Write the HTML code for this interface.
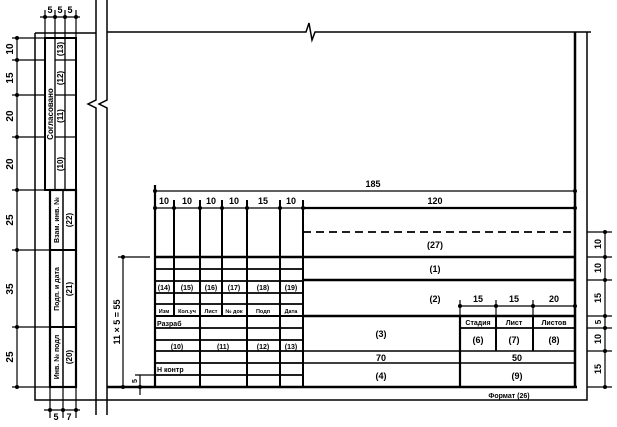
<!DOCTYPE html>
<html><head><meta charset="utf-8"><style>
html,body{margin:0;padding:0;background:#fff;}
svg{display:block;}
text{font-family:"Liberation Sans",sans-serif;fill:#000;font-weight:bold;}
</style></head><body>
<svg width="617" height="427" viewBox="0 0 617 427" xmlns="http://www.w3.org/2000/svg">
<g stroke="#000" fill="none">
<path d="M35,33 H96 M107,32 H306 L309,23 L312,40 L315,32 H591" stroke-width="1.5"/>
<path d="M35,33 V400 H587 V32" stroke-width="1.5"/>
<path d="M96,0 V100 L88,104 L96,108 V415 M107,0 V100 L99,104 L107,108 V415" stroke-width="1.5"/>
<path d="M575,32 V387 M107,387 H577" stroke-width="2.5"/>

<rect x="45" y="38" width="31" height="152" stroke-width="2"/>
<path d="M55,38 V190 M65,38 V190" stroke-width="1.3"/>
<path d="M55,60 H76 M55,95 H76 M55,137 H76" stroke-width="1.3"/>
<rect x="50" y="190" width="26" height="197" stroke-width="2.2"/>
<path d="M63,190 V387" stroke-width="1.5"/>
<path d="M50,250 H76 M50,327 H76" stroke-width="2"/>
<path d="M17,38 V387" stroke-width="1.2"/>
<path d="M12,38 H45 M12,60 H45 M12,95 H45 M12,137 H45 M12,190 H45 M12,250 H50 M12,327 H50 M12,387 H50" stroke-width="1.2"/>
<path d="M45,10 V38 M55,10 V38 M65,10 V38 M76,10 V38 M40,17 H80" stroke-width="1.2"/>
<path d="M50,387 V418 M63,387 V418 M76,387 V418 M44,410 H80" stroke-width="1.2"/>

<path d="M155,185 V387" stroke-width="2.2"/>
<path d="M155,191 H575" stroke-width="1.2"/>
<path d="M155,208 H303" stroke-width="1.2"/>
<path d="M174,200 V316 M222,200 V316" stroke-width="2"/>
<path d="M200,200 V387 M247,200 V387 M280,200 V387 M303,200 V387" stroke-width="2"/>
<path d="M155,257 H575 M303,280 H575 M303,316 H575" stroke-width="2.5"/>
<path d="M155,269 H303 M155,281 H303 M155,293 H303 M155,304 H303 M155,328 H303 M155,340 H303 M155,351 H303 M155,363 H303 M155,375 H303" stroke-width="1.7"/>
<path d="M155,316 H303" stroke-width="2"/>
<path d="M303,208 H575" stroke-width="2.2"/>
<path d="M303,232 H575 M303,208 V257" stroke-width="1.8" stroke-dasharray="8,5"/>
<path d="M303,351 H575 M303,363 H575" stroke-width="1.5"/>
<path d="M460,316 V387" stroke-width="2.2"/>
<path d="M496,316 V351 M533,316 V351" stroke-width="2"/>
<path d="M460,328 H575" stroke-width="1.7"/>
<path d="M460,300 V316 M496,300 V316 M533,300 V316 M460,306 H575" stroke-width="1.2"/>
<path d="M605,232 V387" stroke-width="1.2"/>
<path d="M587,232 H612 M587,257 H612 M587,280 H612 M587,316 H612 M587,328 H612 M587,351 H612 M587,387 H612" stroke-width="1.2"/>
<path d="M123,257 V387 M118,257 H150 M118,387 H150" stroke-width="1.2"/>
<path d="M140,375 V395 M135,375 H155" stroke-width="1.2"/>
</g>
<g fill="#000">
<circle cx="17" cy="38" r="2"/><circle cx="17" cy="60" r="2"/><circle cx="17" cy="95" r="2"/><circle cx="17" cy="137" r="2"/><circle cx="17" cy="190" r="2"/><circle cx="17" cy="250" r="2"/><circle cx="17" cy="327" r="2"/><circle cx="17" cy="387" r="2"/>
<circle cx="45" cy="17" r="2"/><circle cx="55" cy="17" r="2"/><circle cx="65" cy="17" r="2"/><circle cx="76" cy="17" r="2"/>
<circle cx="50" cy="410" r="2"/><circle cx="63" cy="410" r="2"/><circle cx="76" cy="410" r="2"/>
<circle cx="155" cy="208" r="2"/><circle cx="174" cy="208" r="2"/><circle cx="200" cy="208" r="2"/><circle cx="222" cy="208" r="2"/><circle cx="247" cy="208" r="2"/><circle cx="280" cy="208" r="2"/><circle cx="303" cy="208" r="2"/><circle cx="575" cy="208" r="2"/>
<circle cx="155" cy="191" r="2"/><circle cx="575" cy="191" r="2"/>
<circle cx="460" cy="306" r="2"/><circle cx="496" cy="306" r="2"/><circle cx="533" cy="306" r="2"/><circle cx="575" cy="306" r="2"/>
<circle cx="605" cy="232" r="2"/><circle cx="605" cy="257" r="2"/><circle cx="605" cy="280" r="2"/><circle cx="605" cy="316" r="2"/><circle cx="605" cy="328" r="2"/><circle cx="605" cy="351" r="2"/><circle cx="605" cy="387" r="2"/>
<circle cx="123" cy="257" r="2"/><circle cx="123" cy="387" r="2"/><circle cx="140" cy="387" r="2"/>
</g>
<g font-size="10">
<text x="50" y="13" text-anchor="middle" font-size="9">5</text><text x="60" y="13" text-anchor="middle" font-size="9">5</text><text x="70" y="13" text-anchor="middle" font-size="9">5</text>
<text x="56" y="420" text-anchor="middle" font-size="9">5</text><text x="69" y="420" text-anchor="middle" font-size="9">7</text>
<g text-anchor="middle">
<text transform="translate(13,49) rotate(-90)">10</text>
<text transform="translate(13,78) rotate(-90)">15</text>
<text transform="translate(13,116) rotate(-90)">20</text>
<text transform="translate(13,164) rotate(-90)">20</text>
<text transform="translate(13,220) rotate(-90)">25</text>
<text transform="translate(13,289) rotate(-90)">35</text>
<text transform="translate(13,357) rotate(-90)">25</text>
<text transform="translate(53,114) rotate(-90)" font-size="8">Согласовано</text>
<text transform="translate(63,49) rotate(-90)" font-size="8">(13)</text>
<text transform="translate(63,78) rotate(-90)" font-size="8">(12)</text>
<text transform="translate(63,116) rotate(-90)" font-size="8">(11)</text>
<text transform="translate(63,164) rotate(-90)" font-size="8">(10)</text>
<text transform="translate(59,220) rotate(-90)" font-size="7">Взам. инв. №</text>
<text transform="translate(59,289) rotate(-90)" font-size="7">Подп. и дата</text>
<text transform="translate(59,357) rotate(-90)" font-size="7">Инв. № подл</text>
<text transform="translate(72,220) rotate(-90)" font-size="8">(22)</text>
<text transform="translate(72,289) rotate(-90)" font-size="8">(21)</text>
<text transform="translate(72,357) rotate(-90)" font-size="8">(20)</text>
<text transform="translate(120,322) rotate(-90)" font-size="9">11 × 5 = 55</text>
<text transform="translate(137,381) rotate(-90)" font-size="7">5</text>
<text transform="translate(601,244) rotate(-90)" font-size="9">10</text>
<text transform="translate(601,268) rotate(-90)" font-size="9">10</text>
<text transform="translate(601,298) rotate(-90)" font-size="9">15</text>
<text transform="translate(601,322) rotate(-90)" font-size="8">5</text>
<text transform="translate(601,339) rotate(-90)" font-size="9">10</text>
<text transform="translate(601,369) rotate(-90)" font-size="9">15</text>
<text x="373" y="187" font-size="9">185</text>
<text x="164" y="204" font-size="9">10</text><text x="187" y="204" font-size="9">10</text><text x="211" y="204" font-size="9">10</text><text x="234" y="204" font-size="9">10</text><text x="263" y="204" font-size="9">15</text><text x="291" y="204" font-size="9">10</text>
<text x="435" y="204" font-size="9">120</text>
<text x="435" y="248" font-size="9">(27)</text>
<text x="435" y="272" font-size="9">(1)</text>
<text x="435" y="302" font-size="9">(2)</text>
<text x="478" y="302" font-size="9">15</text><text x="514" y="302" font-size="9">15</text><text x="554" y="302" font-size="9">20</text>
<text x="381" y="337" font-size="9">(3)</text>
<text x="478" y="325" font-size="7">Стадия</text><text x="514" y="325" font-size="7">Лист</text><text x="554" y="325" font-size="7">Листов</text>
<text x="478" y="343" font-size="9">(6)</text><text x="514" y="343" font-size="9">(7)</text><text x="554" y="343" font-size="9">(8)</text>
<text x="381" y="361" font-size="9">70</text><text x="517" y="361" font-size="9">50</text>
<text x="381" y="379" font-size="9">(4)</text><text x="517" y="379" font-size="9">(9)</text>
<text x="509" y="398" font-size="7">Формат (26)</text>
<text x="164" y="290" font-size="7">(14)</text><text x="187" y="290" font-size="7">(15)</text><text x="211" y="290" font-size="7">(16)</text><text x="234" y="290" font-size="7">(17)</text><text x="263" y="290" font-size="7">(18)</text><text x="291" y="290" font-size="7">(19)</text>
<text x="164" y="313" font-size="5.5">Изм</text><text x="187" y="313" font-size="5.5">Кол.уч</text><text x="211" y="313" font-size="5.5">Лист</text><text x="234" y="313" font-size="5.5">№ док</text><text x="263" y="313" font-size="5.5">Подп</text><text x="291" y="313" font-size="5.5">Дата</text>
<text x="177" y="349" font-size="7">(10)</text><text x="223" y="349" font-size="7">(11)</text><text x="263" y="349" font-size="7">(12)</text><text x="291" y="349" font-size="7">(13)</text>
</g>
<text x="157" y="326" font-size="7">Разраб</text>
<text x="157" y="372" font-size="7">Н контр</text>
</g>
</svg>
</body></html>
